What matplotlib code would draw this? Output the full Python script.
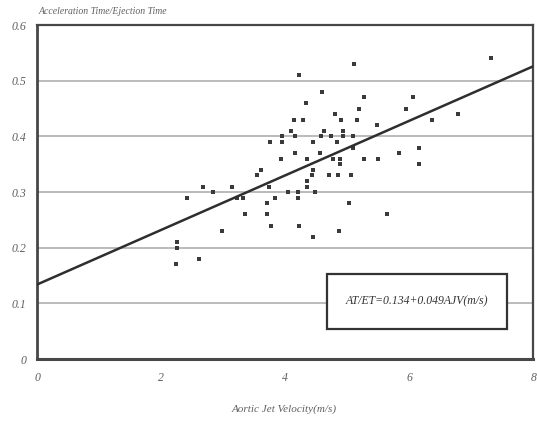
import numpy as np
import matplotlib
matplotlib.use('Agg')
import matplotlib.pyplot as plt
from matplotlib.patches import Rectangle

# aortic jet velocity (m/s) vs AT/ET
ajv = [7.32, 5.11, 4.23, 4.60, 4.34, 5.27, 6.06, 5.19, 5.95, 4.81,
       6.79, 4.15, 4.29, 4.90, 5.16, 6.37, 5.48, 4.10, 4.63, 4.94,
       3.95, 3.95, 4.16, 4.58, 4.74, 4.94, 5.10, 3.76, 4.45, 4.84,
       5.10, 6.16, 4.16, 4.56, 5.84, 3.94, 4.35, 4.77, 4.89, 4.89,
       5.27, 5.50, 6.16, 3.61, 4.45, 3.55, 4.43, 4.71, 4.85, 5.06,
       4.36, 4.36, 3.74, 2.68, 3.14, 2.42, 2.84, 3.23, 3.32, 3.84,
       4.05, 4.20, 4.20, 4.48, 3.71, 3.71, 3.35, 5.03, 5.65, 2.98,
       3.77, 4.23, 4.87, 4.45, 2.26, 2.26, 2.61, 2.24]
at_et = [0.54, 0.53, 0.51, 0.48, 0.46, 0.47, 0.47, 0.45, 0.45, 0.44,
         0.44, 0.43, 0.43, 0.43, 0.43, 0.43, 0.42, 0.41, 0.41, 0.41,
         0.40, 0.39, 0.40, 0.40, 0.40, 0.40, 0.40, 0.39, 0.39, 0.39,
         0.38, 0.38, 0.37, 0.37, 0.37, 0.36, 0.36, 0.36, 0.36, 0.35,
         0.36, 0.36, 0.35, 0.34, 0.34, 0.33, 0.33, 0.33, 0.33, 0.33,
         0.32, 0.31, 0.31, 0.31, 0.31, 0.29, 0.30, 0.29, 0.29, 0.29,
         0.30, 0.30, 0.29, 0.30, 0.28, 0.26, 0.26, 0.28, 0.26, 0.23,
         0.24, 0.24, 0.23, 0.22, 0.21, 0.20, 0.18, 0.17]

intercept = 0.134
slope = 0.049
xticks = [0, 2, 4, 6, 8]
yticks = [0, 0.1, 0.2, 0.3, 0.4, 0.5, 0.6]
ytick_labels = ['0', '0.1', '0.2', '0.3', '0.4', '0.5', '0.6']

plt.rcParams['font.family'] = ['Liberation Serif', 'DejaVu Serif']
txt_color = '#606060'

fig = plt.figure(figsize=(5.37, 4.25), dpi=100)
ax = fig.add_axes([0.069, 0.155, 0.924, 0.786])

ax.set_xlim(0, 8)
ax.set_ylim(0, 0.6)
ax.set_yticks(yticks)
ax.set_yticklabels(ytick_labels, fontstyle='italic', color=txt_color, fontsize=8.5)
ax.set_xticks(xticks)
ax.set_xticklabels([str(t) for t in xticks], fontstyle='italic', color=txt_color, fontsize=8.5)
ax.tick_params(length=0, pad=9)
ax.tick_params(axis='y', pad=8)

ax.grid(axis='y', color='#b5b5b5', linewidth=1.3)
ax.set_axisbelow(True)
for side in ['left', 'bottom', 'right', 'top']:
    ax.spines[side].set_color('#474747')
ax.spines['left'].set_linewidth(2)
ax.spines['bottom'].set_linewidth(2.2)
ax.spines['right'].set_linewidth(1.6)
ax.spines['top'].set_linewidth(1.6)

ax.scatter(ajv, at_et, marker='s', s=5, color='#3a3a3a', linewidths=0, zorder=3)

# regression line
xs = np.array([0, 8])
ax.plot(xs, intercept + slope * xs, color='#2e2e2e', linewidth=1.8, zorder=4)

# equation box
ax.add_patch(Rectangle((0.585, 0.09), 0.363, 0.164, transform=ax.transAxes,
                       fill=True, facecolor='white', edgecolor='#333333',
                       linewidth=1.6, zorder=5))
ax.text(0.766, 0.172, 'AT/ET=0.134+0.049AJV(m/s)', transform=ax.transAxes,
        ha='center', va='center', fontstyle='italic', fontsize=8.5,
        color='#333333', zorder=6)

fig.text(0.072, 0.972, 'Acceleration Time/Ejection Time', fontstyle='italic',
         fontsize=7, color=txt_color, ha='left', va='center')
fig.text(0.53, 0.038, 'Aortic Jet Velocity(m/s)', fontstyle='italic',
         fontsize=8, color=txt_color, ha='center', va='center')

fig.savefig('out.png', dpi=100)
